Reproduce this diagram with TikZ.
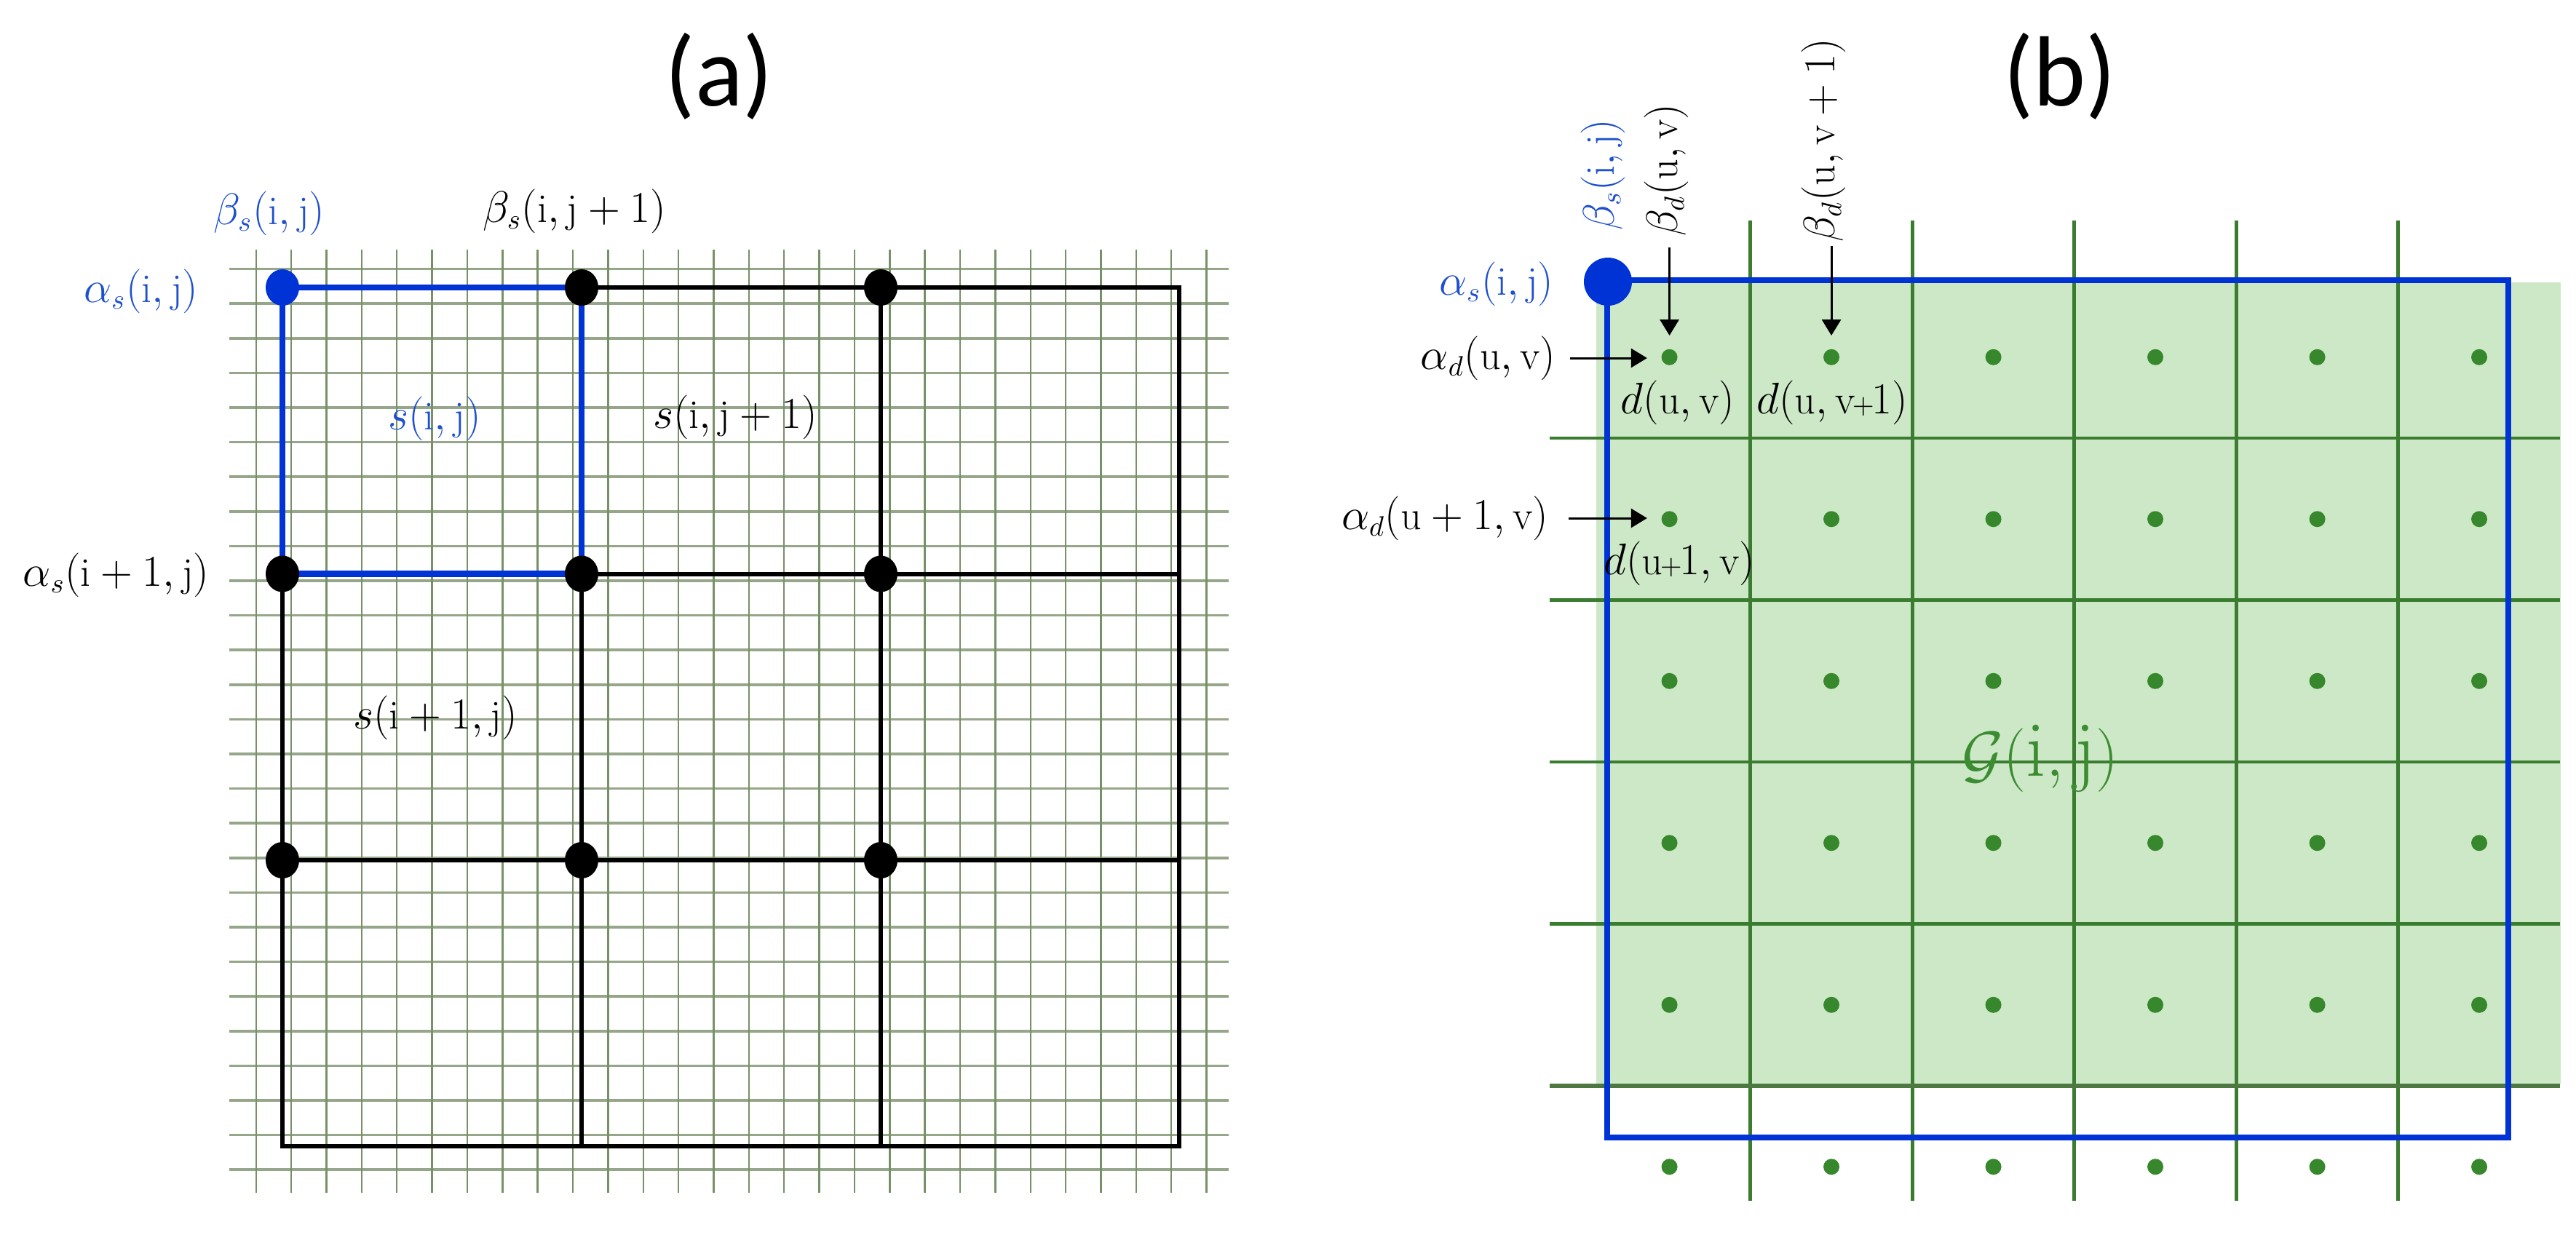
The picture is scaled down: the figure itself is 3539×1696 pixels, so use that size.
\documentclass[tikz,border=0pt]{standalone}
\usepackage{fontspec}
\newfontfamily\calib{Carlito}
\usetikzlibrary{arrows.meta,shapes.geometric}
\definecolor{gridv}{RGB}{118,145,102}
\definecolor{gridh}{RGB}{150,166,138}
\definecolor{blueL}{RGB}{0,51,214}
\definecolor{blueT}{RGB}{30,80,205}
\definecolor{gfill}{RGB}{205,232,198}
\definecolor{gline}{RGB}{58,125,48}
\definecolor{gdot}{RGB}{55,135,45}
\definecolor{gtext}{RGB}{60,140,50}
\begin{document}
\begin{tikzpicture}[x=0.01cm,y=-0.01cm,
  lbl/.style={inner sep=0pt, font=\fontsize{16}{18}\selectfont},
  ttl/.style={inner sep=0pt, font=\calib\fontsize{39}{44}\selectfont},
  finev/.style={draw=gridv, line width=0.7pt},
  fineh/.style={draw=gridh, line width=1.0pt},
  bigl/.style={draw=black, line width=1.7pt},
  bluel/.style={draw=blueL, line width=2.3pt},
  bdot/.style={ellipse, fill=black, inner sep=0pt, minimum width=0.46cm, minimum height=0.50cm},
  bldot/.style={bdot, fill=blueL},
  gdotst/.style={circle, fill=gdot, inner sep=0pt, minimum size=0.22cm},
  gl/.style={draw=gline, line width=1.4pt},
  arr/.style={draw=black, line width=0.85pt, -{Triangle[length=0.22cm,width=0.26cm]}}
]
\useasboundingbox (0,0) rectangle (3539,1696);

% ---------------- panel (a) ----------------
\node[ttl] (ta) at (988,105) {(a)};

\foreach \k in {0,...,26} \draw[fineh] (315,{369.6+47.6*\k}) -- (1688,{369.6+47.6*\k});
\foreach \k in {0,...,27} \draw[finev] ({351.8+48.36*\k},343) -- ({351.8+48.36*\k},1639);

\draw[bigl] (388,395) rectangle (1620,1575);
\draw[bigl] (799,395) -- (799,1575);
\draw[bigl] (1210,395) -- (1210,1575);
\draw[bigl] (388,788.5) -- (1620,788.5);
\draw[bigl] (388,1182) -- (1620,1182);
\draw[bluel] (388,395) rectangle (799,788.5);

\node[bldot] (p00) at (388,395) {};
\node[bdot] (p01) at (799,395) {};
\node[bdot] (p02) at (1210,395) {};
\node[bdot] (p10) at (388,788.5) {};
\node[bdot] (p11) at (799,788.5) {};
\node[bdot] (p12) at (1210,788.5) {};
\node[bdot] (p20) at (388,1182) {};
\node[bdot] (p21) at (799,1182) {};
\node[bdot] (p22) at (1210,1182) {};

\node[lbl, text=blueT] (bsa) at (370,293) {$\beta_s(\mathrm{i},\mathrm{j})$};
\node[lbl] (bsa1) at (789,290) {$\beta_s(\mathrm{i},\mathrm{j}+1)$};
\node[lbl, text=blueT, anchor=east] (asa) at (273,400) {$\alpha_s(\mathrm{i},\mathrm{j})$};
\node[lbl, anchor=east] (asa1) at (288,790) {$\alpha_s(\mathrm{i}+1,\mathrm{j})$};
\node[lbl, text=blueT] (sij) at (597,575) {$s(\mathrm{i},\mathrm{j})$};
\node[lbl] (sij1) at (1010,573) {$s(\mathrm{i},\mathrm{j}+1)$};
\node[lbl] (si1j) at (598,986) {$s(\mathrm{i}+1,\mathrm{j})$};

% ---------------- panel (b) ----------------
\node[ttl] (tb) at (2830,105) {(b)};

\fill[gfill] (2193,388) rectangle (3518,1490);
\foreach \k in {1,...,5} \draw[gl] ({2182.3+222.5*\k},303) -- ({2182.3+222.5*\k},1650);
\foreach \k in {1,...,4} \draw[gl] (2129,{379.5+222.5*\k}) -- (3517,{379.5+222.5*\k});
\draw[draw={rgb,255:red,78;green,120;blue,66}, line width=1.7pt] (2129,1492) -- (3517,1492);
\draw[bluel, line width=2.3pt] (2208,385) rectangle (3446,1563);

\foreach \r in {0,...,5}
  \foreach \c in {0,...,5}
    \node[gdotst] (d-\r-\c) at ({2182.3+222.5*(\c+0.5)},{379.5+222.5*(\r+0.5)}) {};

\node[circle, fill=blueL, inner sep=0pt, minimum size=0.66cm] (bq) at (2209,387) {};

\node[lbl, text=blueT, anchor=east] (asb) at (2135,390) {$\alpha_s(\mathrm{i},\mathrm{j})$};
\node[lbl, text=blueT, rotate=90, anchor=west] (bsb) at (2202,317) {$\beta_s(\mathrm{i},\mathrm{j})$};
\node[lbl, rotate=90, anchor=west] (bd1) at (2289,325) {$\beta_d(\mathrm{u},\mathrm{v})$};
\node[lbl, rotate=90, anchor=west] (bd2) at (2505,333) {$\beta_d(\mathrm{u},\mathrm{v}+1)$};
\node[lbl, anchor=east] (ad1) at (2138,492) {$\alpha_d(\mathrm{u},\mathrm{v})$};
\node[lbl, anchor=east] (ad2) at (2128,712) {$\alpha_d(\mathrm{u}+1,\mathrm{v})$};
\node[lbl] (dl1) at (2305,553) {$d(\mathrm{u},\mathrm{v})$};
\node[lbl] (dl2) at (2517,553) {$d(\mathrm{u},\mathrm{v}\mkern-1mu{\scriptstyle+}\mkern-1mu1)$};
\node[lbl] (dl3) at (2307,774) {$d(\mathrm{u}\mkern-1mu{\scriptstyle+}\mkern-1mu1,\mathrm{v})$};
\node[inner sep=0pt, text=gtext, font=\fontsize{31}{34}\selectfont] (G) at (2803,1042) {$\mathcal{G}(\mathrm{i},\mathrm{j})$};

\draw[arr, shorten <=0.15cm, shorten >=0.18cm] (d-0-0 |- bd1.west) -- (d-0-0);
\draw[arr, shorten <=0.05cm, shorten >=0.18cm] (d-0-1 |- bd2.west) -- (d-0-1);
\draw[arr, shorten <=0.19cm, shorten >=0.19cm] (ad1.east) -- (ad1.east -| d-0-0.west);
\draw[arr, shorten <=0.27cm, shorten >=0.19cm] (ad2.east) -- (ad2.east -| d-1-0.west);
\end{tikzpicture}
\end{document}
